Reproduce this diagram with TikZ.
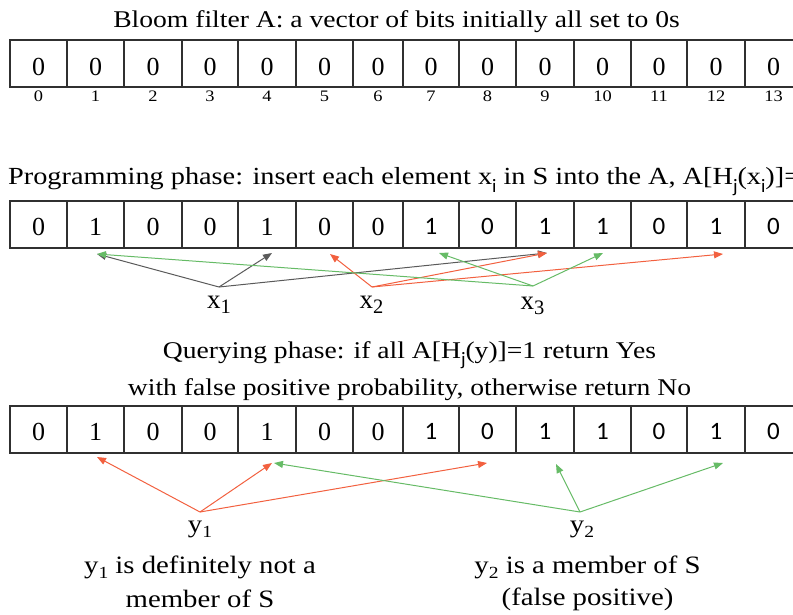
\documentclass[tikz,border=0pt]{standalone}
\usepackage{fontspec}
\setmainfont{Liberation Serif}
\newfontfamily\wserif[FakeStretch=1.15]{Liberation Serif}
\newfontfamily\sansnum{Carlito}
\usetikzlibrary{arrows.meta}

\definecolor{ptrgray}{HTML}{5A5A5A}
\definecolor{ptrred}{HTML}{F2603F}
\definecolor{ptrgreen}{HTML}{66BB66}
\definecolor{boxgray}{HTML}{303030}

% lowered subscripts: sans (titles) and serif (element labels)
\newcommand\ssub[2]{\raisebox{-0.3em}{\sansnum\fontsize{#1}{#1}\selectfont #2}}
\newcommand\rsub[2]{\raisebox{-0.2em}{\fontsize{#1}{#1}\selectfont #2}}

\tikzset{
  bitline/.style={draw=boxgray, line width=1.1pt},
  serifdigit/.style={font=\fontsize{26}{26}\selectfont, anchor=base, inner sep=0pt},
  sansdigit/.style={font=\sansnum\fontsize{25}{25}\selectfont, anchor=base, inner sep=0pt},
  idxlabel/.style={font=\wserif\fontsize{16}{16}\selectfont, anchor=base, inner sep=0pt},
  titletext/.style={font=\wserif\fontsize{24}{24}\selectfont, anchor=base, inner sep=0pt},
  elemlabel/.style={font=\wserif\fontsize{25}{25}\selectfont, anchor=base, inner sep=0pt},
  xlabel/.style={font=\fontsize{27}{27}\selectfont, anchor=base, inner sep=0pt},
  ptr/.style={line width=1pt, -{Triangle[length=9pt,width=7pt]}},
}

\begin{document}
\begin{tikzpicture}[x=1pt, y=-1pt]
\clip (0,0) rectangle (793,615);

% ---------- titles ----------
\node[titletext] (t1) at (396.5,28) {Bloom filter A: a vector of bits initially all set to 0s};
\node[titletext, font=\wserif\fontsize{24.6}{24.6}\selectfont, anchor=base west] (t2) at (8,185)
  {Programming phase: insert each element x\ssub{19}{i} in S into the A, A[H\ssub{19}{j}(x\ssub{19}{i})]=1};
\node[titletext] (t3a) at (409.5,358) {Querying phase: if all A[H\ssub{19}{j}(y)]=1 return Yes};
\node[titletext] (t3b) at (409.5,395) {with false positive probability, otherwise return No};

% ---------- bit vectors ----------
\foreach \top/\rw in {40/a, 201/b, 406/c}{
  \foreach \l/\r in {10/67, 67/124, 124/182, 182/238, 238/296, 296/353, 353/403,
                     403/459, 459/516, 516/574, 574/631, 631/687, 687/745, 745/802}
    \draw[bitline] (\l,\top) rectangle (\r,\top+47);
}

% vector A, all zeros
\foreach \l/\r [count=\k from 0] in {10/67, 67/124, 124/182, 182/238, 238/296, 296/353, 353/403,
                     403/459, 459/516, 516/574, 574/631, 631/687, 687/745, 745/802}{
  \node[serifdigit] (a\k) at ({(\l+\r)/2},76) {0};
  \node[idxlabel] (i\k) at ({(\l+\r)/2},102) {\k};
}

% programmed and queried vectors
\foreach \top/\rw in {201/b, 406/c}{
  \foreach \l/\r/\v [count=\k from 0] in {10/67/0, 67/124/1, 124/182/0, 182/238/0, 238/296/1, 296/353/0, 353/403/0}
    \node[serifdigit] (\rw\k) at ({(\l+\r)/2},\top+34) {\v};
  \foreach \l/\r/\v [count=\k from 7] in {403/459/1, 459/516/0, 516/574/1, 574/631/1, 631/687/0, 687/745/1, 745/802/0}
    \node[sansdigit] (\rw\k) at ({(\l+\r)/2},\top+33) {\v};
}

% ---------- programming phase ----------
\node[xlabel] (x1) at (219,308) {x\rsub{20.5}{1}};
\node[xlabel] (x2) at (371.5,308) {x\rsub{20.5}{2}};
\node[xlabel] (x3) at (532.5,309) {x\rsub{20.5}{3}};

\coordinate (sx1) at (219,287);
\coordinate (sx2) at (372,287);
\coordinate (sx3) at (533,286);

\coordinate (pb1) at (97,254);
\coordinate (pb4) at (272,253);
\coordinate (pb5) at (330,254);
\coordinate (pb7) at (439,253);
\coordinate (pb9) at (547,253);
\coordinate (pb10) at (603,253);
\coordinate (pb12) at (723,254);

\draw[ptr, ptrgray] (sx1) -- (pb1);
\draw[ptr, ptrgray] (sx1) -- (pb4);
\draw[ptr, ptrgray] (sx1) -- (pb9);
\draw[ptr, ptrred] (sx2) -- (pb5);
\draw[ptr, ptrred] (sx2) -- (pb9);
\draw[ptr, ptrred] (sx2) -- (pb12);
\draw[ptr, ptrgreen] (sx3) -- (pb1);
\draw[ptr, ptrgreen] (sx3) -- (pb7);
\draw[ptr, ptrgreen] (sx3) -- (pb10);

% ---------- querying phase ----------
\coordinate (sy1) at (200,512);
\coordinate (sy2) at (580,512);

\coordinate (qc1) at (97,457);
\coordinate (qc4r) at (272,463);
\coordinate (qc4g) at (274,463);
\coordinate (qc8) at (487,463);
\coordinate (qc9) at (556,464);
\coordinate (qc12) at (723,463);

\draw[ptr, ptrred] (sy1) -- (qc1);
\draw[ptr, ptrred] (sy1) -- (qc4r);
\draw[ptr, ptrred] (sy1) -- (qc8);
\draw[ptr, ptrgreen] (sy2) -- (qc4g);
\draw[ptr, ptrgreen] (sy2) -- (qc9);
\draw[ptr, ptrgreen] (sy2) -- (qc12);

\node[elemlabel] (y1) at (200,532) {y\rsub{17}{1}};
\node[elemlabel] (y2) at (582,532) {y\rsub{17}{2}};

\node[elemlabel] (n1a) at (200,573) {y\rsub{17}{1} is definitely not a};
\node[elemlabel] (n1b) at (200,607) {member of S};
\node[elemlabel] (n2a) at (587.5,573) {y\rsub{17}{2} is a member of S};
\node[elemlabel] (n2b) at (587.5,605) {(false positive)};
\end{tikzpicture}
\end{document}
